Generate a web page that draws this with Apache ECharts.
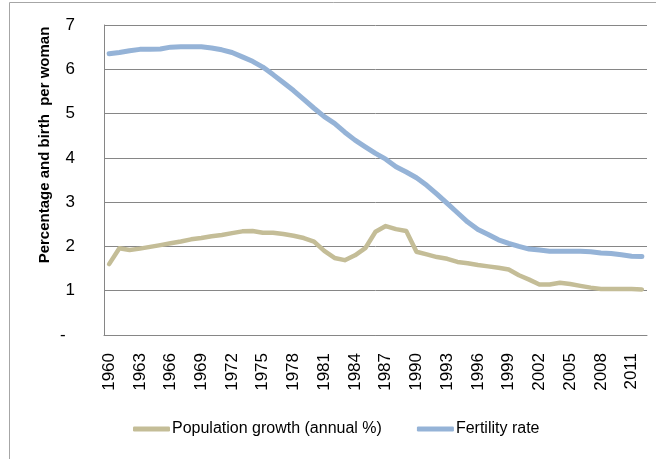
<!DOCTYPE html>
<html>
<head>
<meta charset="utf-8">
<script src="https://cdn.jsdelivr.net/npm/echarts@6/dist/echarts.min.js"></script>
<style>
html,body{margin:0;padding:0;background:#fff;}
#chart{width:656px;height:459px;}
</style>
</head>
<body>
<div id="chart"></div>
<script>
var years = [];
for (var y = 1960; y <= 2012; y++) years.push(String(y));

var populationGrowth = [
  1.60, 1.96, 1.92, 1.95, 1.99, 2.03, 2.07, 2.11, 2.16, 2.19,
  2.23, 2.26, 2.30, 2.34, 2.35, 2.31, 2.31, 2.28, 2.24, 2.19,
  2.11, 1.90, 1.74, 1.69, 1.80, 1.96, 2.33, 2.46, 2.39, 2.35,
  1.88, 1.82, 1.76, 1.72, 1.65, 1.62, 1.58, 1.55, 1.52, 1.48,
  1.35, 1.25, 1.14, 1.14, 1.18, 1.15, 1.11, 1.07, 1.04, 1.04,
  1.04, 1.04, 1.03
];

var fertilityRate = [
  6.35, 6.38, 6.42, 6.45, 6.45, 6.46, 6.50, 6.51, 6.51, 6.51,
  6.48, 6.44, 6.38, 6.28, 6.18, 6.05, 5.88, 5.70, 5.52, 5.32,
  5.12, 4.93, 4.78, 4.58, 4.40, 4.25, 4.10, 3.97, 3.80, 3.68,
  3.55, 3.38, 3.18, 2.97, 2.76, 2.55, 2.38, 2.27, 2.15, 2.07,
  2.00, 1.94, 1.92, 1.89, 1.89, 1.89, 1.89, 1.88, 1.85, 1.84,
  1.81, 1.78, 1.77
];

var yTickLabels = ['-', '1', '2', '3', '4', '5', '6', '7'];
var seriesNames = ['Population growth (annual %)', 'Fertility rate'];
var yAxisTitle = 'Percentage and birth  per woman';

var FONT = '"Liberation Sans", Arial, sans-serif';

var chart = echarts.init(document.getElementById('chart'), null, {renderer: 'canvas'});
chart.setOption({
  animation: false,
  backgroundColor: '#ffffff',
  graphic: [
    {
      type: 'rect',
      shape: {x: 9.5, y: 2.5, width: 700, height: 500},
      style: {fill: 'none', stroke: '#a6a6a6', lineWidth: 1},
      silent: true
    },
    {
      type: 'text',
      x: 45,
      y: 145,
      rotation: Math.PI / 2,
      style: {
        text: yAxisTitle,
        fontSize: 15,
        fontWeight: 'bold',
        fontFamily: FONT,
        fill: '#000000',
        align: 'center',
        verticalAlign: 'middle'
      }
    }
  ],
  grid: {left: 104, right: 9, top: 25, bottom: 124, containLabel: false},
  legend: {
    left: 133,
    top: 421,
    padding: 0,
    itemWidth: 37,
    itemHeight: 5,
    itemGap: 35,
    icon: 'roundRect',
    textStyle: {fontSize: 16, fontFamily: FONT, color: '#000000', padding: [0, 0, 0, -3]},
    data: seriesNames
  },
  xAxis: {
    type: 'category',
    data: years,
    boundaryGap: true,
    axisLine: {show: true, lineStyle: {color: '#868686', width: 1}},
    axisTick: {show: false},
    axisLabel: {
      interval: 2,
      rotate: 90,
      margin: 18,
      fontSize: 17,
      fontFamily: FONT,
      color: '#000000'
    },
    splitLine: {show: false}
  },
  yAxis: {
    type: 'value',
    min: 0,
    max: 7,
    interval: 1,
    axisLine: {show: true, lineStyle: {color: '#868686', width: 1}},
    axisTick: {show: false},
    axisLabel: {
      margin: 29,
      fontSize: 17,
      fontFamily: FONT,
      color: '#000000',
      formatter: function (v) { var i = Math.round(v); return i === 0 ? yTickLabels[0] + '  ' : yTickLabels[i]; }
    },
    splitLine: {show: true, lineStyle: {color: '#868686', width: 1}}
  },
  series: [
    {
      name: seriesNames[0],
      type: 'line',
      data: populationGrowth,
      showSymbol: false,
      symbol: 'none',
      color: '#C4BD97',
      lineStyle: {color: '#C4BD97', width: 4.5, cap: 'round', join: 'round'},
      z: 2
    },
    {
      name: seriesNames[1],
      type: 'line',
      data: fertilityRate,
      showSymbol: false,
      symbol: 'none',
      color: '#95B3D7',
      lineStyle: {color: '#95B3D7', width: 5, cap: 'round', join: 'round'},
      z: 3
    }
  ]
});
</script>
</body>
</html>
